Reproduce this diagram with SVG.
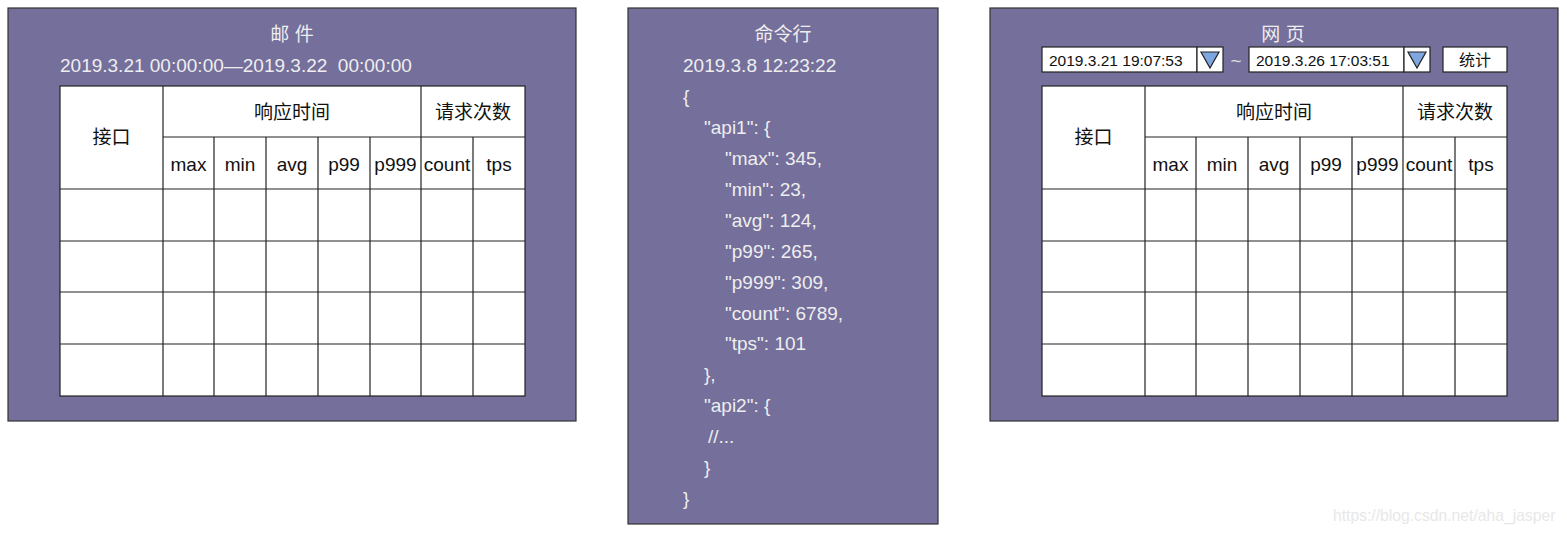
<svg xmlns="http://www.w3.org/2000/svg" width="1567" height="533" viewBox="0 0 1567 533">
<style>
.panel{fill:#756f9c;stroke:#333;stroke-width:1.2}
.cell{fill:#fff;stroke:#222;stroke-width:1.2}
.ln{stroke:#222;stroke-width:1.2}
.pt{font-family:"Liberation Sans","Noto Sans CJK SC",sans-serif;font-size:19px;fill:#eeeeee;white-space:pre}
.tt{font-family:"Liberation Sans","Noto Sans CJK SC",sans-serif;font-size:19px;fill:#111;text-anchor:middle}
.st{font-family:"Liberation Sans","Noto Sans CJK SC",sans-serif;font-size:15.5px;fill:#111}
.tri{fill:#7ea6e0;stroke:#222;stroke-width:1.2}
.wm{font-family:"Liberation Sans",sans-serif;font-size:15.7px;fill:#e8e8e8}
</style>
<defs>
<g id="table">
<rect class="cell" x="0" y="0" width="465" height="310"/>
<line class="ln" x1="103" y1="0" x2="103" y2="310"/>
<line class="ln" x1="361" y1="0" x2="361" y2="310"/>
<line class="ln" x1="103" y1="51" x2="465" y2="51"/>
<line class="ln" x1="154" y1="51" x2="154" y2="310"/>
<line class="ln" x1="206" y1="51" x2="206" y2="310"/>
<line class="ln" x1="258" y1="51" x2="258" y2="310"/>
<line class="ln" x1="310" y1="51" x2="310" y2="310"/>
<line class="ln" x1="413" y1="51" x2="413" y2="310"/>
<line class="ln" x1="0" y1="103" x2="465" y2="103"/>
<line class="ln" x1="0" y1="155" x2="465" y2="155"/>
<line class="ln" x1="0" y1="206" x2="465" y2="206"/>
<line class="ln" x1="0" y1="258" x2="465" y2="258"/>
<text class="tt" x="51.5" y="58">接口</text>
<text class="tt" x="232" y="33">响应时间</text>
<text class="tt" x="413" y="33">请求次数</text>
<text class="tt" x="128.5" y="85">max</text>
<text class="tt" x="180" y="85">min</text>
<text class="tt" x="232" y="85">avg</text>
<text class="tt" x="284" y="85">p99</text>
<text class="tt" x="335.5" y="85">p999</text>
<text class="tt" x="387" y="85">count</text>
<text class="tt" x="439" y="85">tps</text>
</g>
</defs>

<g id="mail">
<rect class="panel" x="8" y="8" width="568" height="413"/>
<text class="pt" x="292" y="41" text-anchor="middle">邮 件</text>
<text class="pt" x="60" y="72" xml:space="preserve">2019.3.21 00:00:00—2019.3.22  00:00:00</text>
<use href="#table" x="60" y="86"/>
</g>

<g id="cli">
<rect class="panel" x="628" y="8" width="310" height="516"/>
<text class="pt" x="783" y="41" text-anchor="middle">命令行</text>
<text class="pt" x="683" y="72">2019.3.8 12:23:22</text>
<text class="pt" x="683" y="103">{</text>
<text class="pt" x="704" y="134">"api1": {</text>
<text class="pt" x="725" y="165">"max": 345,</text>
<text class="pt" x="725" y="196">"min": 23,</text>
<text class="pt" x="725" y="227">"avg": 124,</text>
<text class="pt" x="725" y="258">"p99": 265,</text>
<text class="pt" x="725" y="289">"p999": 309,</text>
<text class="pt" x="725" y="320">"count": 6789,</text>
<text class="pt" x="725" y="350">"tps": 101</text>
<text class="pt" x="704" y="381">},</text>
<text class="pt" x="704" y="412">"api2": {</text>
<text class="pt" x="708" y="443">//...</text>
<text class="pt" x="704" y="474">}</text>
<text class="pt" x="683" y="505">}</text>
</g>

<g id="web">
<rect class="panel" x="990" y="8" width="568" height="413"/>
<text class="pt" x="1283" y="41" text-anchor="middle">网 页</text>
<rect class="cell" x="1042" y="47" width="155" height="25"/>
<text class="st" x="1049" y="66">2019.3.21 19:07:53</text>
<rect class="cell" x="1197" y="47" width="26" height="25"/>
<path class="tri" d="M1201,52 L1219,52 L1210,68 Z"/>
<text class="pt" x="1236" y="67" text-anchor="middle" style="fill:#dddddd">~</text>
<rect class="cell" x="1249" y="47" width="155" height="25"/>
<text class="st" x="1256" y="66">2019.3.26 17:03:51</text>
<rect class="cell" x="1404" y="47" width="26" height="25"/>
<path class="tri" d="M1408,52 L1426,52 L1417,68 Z"/>
<rect class="cell" x="1443" y="47" width="64" height="25"/>
<text class="st" x="1475" y="66" text-anchor="middle" style="font-size:16px">统计</text>
<use href="#table" x="1042" y="86"/>
</g>

<text class="wm" x="1333" y="521">https://blog.csdn.net/aha_jasper</text>
</svg>
